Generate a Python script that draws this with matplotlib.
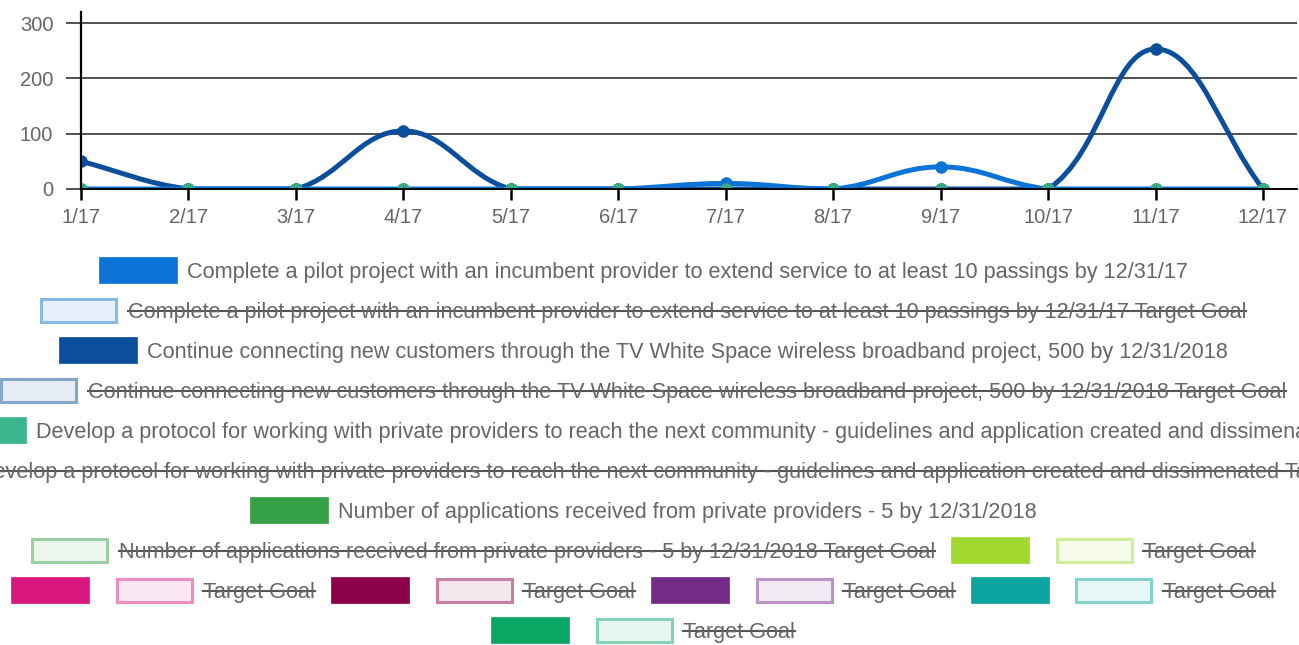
import numpy as np
import matplotlib.pyplot as plt
from matplotlib.path import Path
from matplotlib.patches import PathPatch, Rectangle
from matplotlib.lines import Line2D
from matplotlib.colors import to_rgb

W, H = 1299, 645
plt.rcParams['font.family'] = ['Liberation Sans', 'DejaVu Sans']

# data
months = ["1/17", "2/17", "3/17", "4/17", "5/17", "6/17",
          "7/17", "8/17", "9/17", "10/17", "11/17", "12/17"]
pilot = [0, 0, 0, 0, 0, 0, 10, 0, 40, 0, 0, 0]
tvws = [50, 0, 0, 105, 0, 0, 0, 0, 0, 0, 253, 0]
protocol = [0, 0, 0, 0, 0, 0, 0, 0, 0, 0, 0, 0]
applications = [0, 0, 0, 0, 0, 0, 0, 0, 0, 0, 0, 0]

goal_labels = [
    "Complete a pilot project with an incumbent provider to extend service to at least 10 passings by 12/31/17",
    "Continue connecting new customers through the TV White Space wireless broadband project, 500 by 12/31/2018",
    "Develop a protocol for working with private providers to reach the next community - guidelines and application created and dissimenated",
    "Number of applications received from private providers - 5 by 12/31/2018",
    "", "", "", "", "", "",
]
goal_colors = ["#0b74d6", "#0b4e9c", "#3cb68e", "#36a046", "#a1d930",
               "#d9187f", "#8c004a", "#742a87", "#0aa5a0", "#0aa764"]

fig = plt.figure(figsize=(W / 100, H / 100), dpi=100, facecolor='w')


def fx(x):
    return x / W


def fy(y):
    return 1 - y / H


# chart area
x_right = (1297 - 81) / ((1263 - 81) / 11)
ax = fig.add_axes([fx(81), fy(189), fx(1297 - 81), (189 - 12) / H])
ax.set_xlim(0, x_right)
ax.set_ylim(0, 320)
xs = np.arange(len(months))

ax.set_yticks([0, 100, 200, 300])
ax.set_xticks(xs)
ax.set_xticklabels(months)
ax.grid(axis='y', color='#222222', lw=1.1)
ax.set_axisbelow(True)
for s in ['top', 'right']:
    ax.spines[s].set_visible(False)
ax.spines['left'].set_linewidth(1.6)
ax.spines['bottom'].set_linewidth(1.4)
ax.spines['bottom'].set_zorder(6)
ax.spines['left'].set_zorder(6)
ax.tick_params(axis='y', length=11, width=1.1, color='#222222', pad=9,
               labelsize=14.5, labelcolor='#666666')
ax.tick_params(axis='x', length=8, width=1.8, color='black', pad=6,
               labelsize=14.5, labelcolor='#666666')


def spline(xv, yv, tension=0.4):
    # bezier curve like chart.js (tension 0.4, control points capped to chart area)
    pts = ax.transData.transform(np.column_stack([xv, yv]).astype(float))
    n = len(pts)
    cprev = pts.copy()
    cnext = pts.copy()
    for i in range(n):
        p0 = pts[max(i - 1, 0)]
        p1 = pts[i]
        p2 = pts[min(i + 1, n - 1)]
        d01 = np.hypot(*(p1 - p0))
        d12 = np.hypot(*(p2 - p1))
        tot = d01 + d12
        s01 = d01 / tot if tot else 0
        s12 = d12 / tot if tot else 0
        cprev[i] = p1 - tension * s01 * (p2 - p0)
        cnext[i] = p1 + tension * s12 * (p2 - p0)
    bb = ax.bbox
    cprev[:, 1] = np.clip(cprev[:, 1], bb.y0, bb.y1)
    cnext[:, 1] = np.clip(cnext[:, 1], bb.y0, bb.y1)
    verts = [pts[0]]
    codes = [Path.MOVETO]
    for i in range(1, n):
        verts += [cnext[i - 1], cprev[i], pts[i]]
        codes += [Path.CURVE4] * 3
    inv = ax.transData.inverted()
    return Path(inv.transform(np.array(verts)), codes)


# last dataset at the bottom, first one on top (chart.js order)
series = [(applications, goal_colors[3], 2.6), (protocol, goal_colors[2], 2.6),
          (tvws, goal_colors[1], 3.6), (pilot, goal_colors[0], 3.6)]
for k, (vals, c, lw) in enumerate(series):
    ax.add_patch(PathPatch(spline(xs, vals), fc='none', ec=c, lw=lw,
                           capstyle='round', joinstyle='round', zorder=3 + 0.1 * k))
for vals, c, lw in series[2:]:
    ax.plot(xs, vals, 'o', color=c, ms=8, zorder=4)
for vals, c, lw in series[:2]:
    ax.plot(xs, vals, 'o', color=c, ms=9, alpha=0.7, mew=0, zorder=5)

# legend (chart.js style, centred rows)
fig.canvas.draw()
r = fig.canvas.get_renderer()
legend = []
for lab, c in zip(goal_labels, goal_colors):
    legend.append((lab, c, False))
    legend.append((lab + " Target Goal" if lab else "Target Goal", c, True))

probe = fig.text(0, 0, goal_labels[0], fontsize=13)
fs = 13 * 1003 / probe.get_window_extent(r).width
probe.remove()
em = fs / 0.72

box_w, box_h, gap, pad = 78, 26, 10, 16
items = []
for lab, c, tgt in legend:
    t = None
    tw = 0
    if lab:
        t = fig.text(0, 0, lab, fontsize=fs, color='#666666', va='baseline', ha='left')
        tw = t.get_window_extent(r).width
    items.append((t, tw, c, tgt))

rows = [[]]
rw = 0
for it in items:
    w = box_w + gap + it[1]
    if rows[-1] and rw + pad + w > W:
        rows.append([])
        rw = 0
    rw = rw + pad + w if rows[-1] else w
    rows[-1].append(it)

cx = 643
for ri, row in enumerate(rows):
    ry = 270 + 40 * ri
    total = sum(box_w + gap + it[1] for it in row) + pad * (len(row) - 1)
    x = cx - total / 2
    for t, tw, c, tgt in row:
        rgb = np.array(to_rgb(c))
        if tgt:
            fc = 1 - 0.1 * (1 - rgb)
            ec = 1 - 0.5 * (1 - rgb)
            rect = Rectangle((fx(x + 1.5), fy(ry + box_h / 2 - 1.5)), (box_w - 3) / W,
                             (box_h - 3) / H, transform=fig.transFigure,
                             fc=fc, ec=ec, lw=2.2)
        else:
            rect = Rectangle((fx(x), fy(ry + box_h / 2)), box_w / W, box_h / H,
                             transform=fig.transFigure, fc=c, ec=c, lw=0.5)
        fig.add_artist(rect)
        tx = x + box_w + gap
        if t is not None:
            t.set_position((fx(tx), fy(ry + 0.36 * em)))
            if tgt:
                fig.add_artist(Line2D([fx(tx), fx(tx + tw)], [fy(ry + 1), fy(ry + 1)],
                                      transform=fig.transFigure, color='#555555', lw=1.5))
        x = tx + tw + pad

fig.savefig("out.png", dpi=100)
